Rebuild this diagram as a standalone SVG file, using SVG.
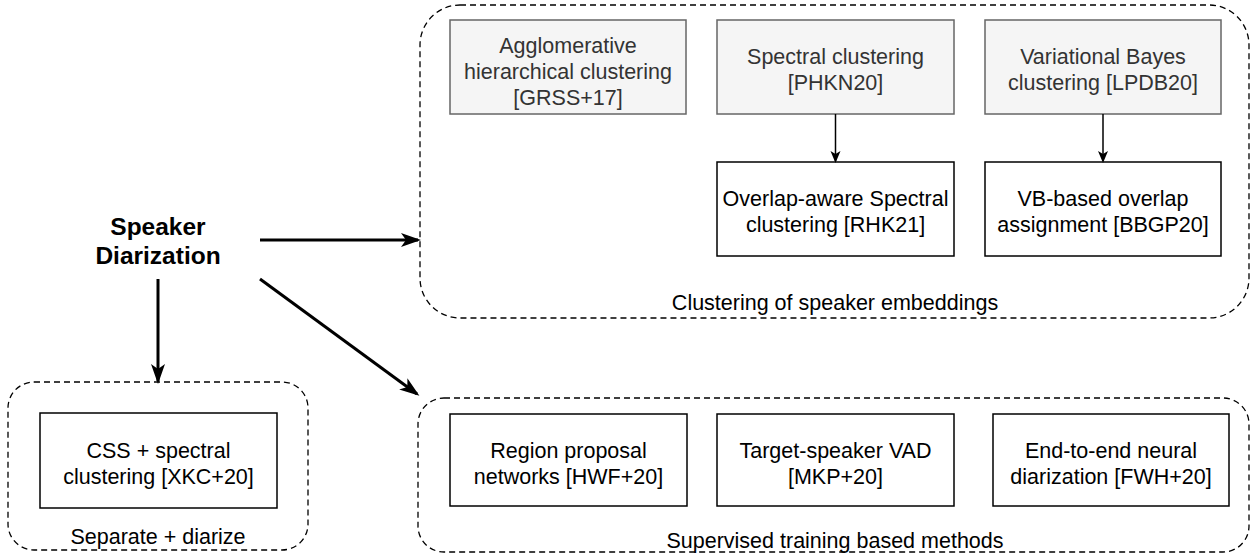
<svg xmlns="http://www.w3.org/2000/svg" width="1253" height="556" viewBox="0 0 1253 556">
<defs>
<style>
.t{font-family:"Liberation Sans",Arial,sans-serif;font-size:21.5px;fill:#000;text-anchor:middle}
.g{fill:#333}
.box{fill:#fff;stroke:#000;stroke-width:1.5}
.gbox{fill:#f5f5f5;stroke:#666;stroke-width:1.5}
.cont{fill:none;stroke:#000;stroke-width:1.3;stroke-dasharray:6 4}
.c1{stroke:#000;stroke-width:1.5;fill:none}
.c2{stroke:#000;stroke-width:3;fill:none}
</style>
<marker id="a1" markerWidth="12" markerHeight="12" refX="10" refY="5" orient="auto" markerUnits="userSpaceOnUse" viewBox="0 0 12 10"><path d="M0,0 L12,5 L0,10 L3,5 Z" fill="#000"/></marker>
<marker id="a2" markerWidth="20" markerHeight="20" refX="17" refY="7" orient="auto" markerUnits="userSpaceOnUse" viewBox="0 0 20 14"><path d="M0,0 L20,7 L0,14 L5,7 Z" fill="#000"/></marker>
</defs>
<rect width="1253" height="556" fill="#fff"/>

<g id="cluster-container">
<rect class="cont" x="420" y="5" width="829" height="313" rx="40" ry="40"/>
<text class="t" x="835" y="310">Clustering of speaker embeddings</text>
</g>
<g id="separate-container">
<rect class="cont" x="8" y="382" width="300" height="168" rx="26" ry="26"/>
<text class="t" x="158" y="544">Separate + diarize</text>
</g>
<g id="supervised-container">
<rect class="cont" x="418" y="398" width="831" height="154" rx="26" ry="26"/>
<text class="t" x="835" y="548">Supervised training based methods</text>
</g>

<g id="speaker-diarization">
<text class="t" style="font-weight:bold;font-size:24.5px" x="158" y="235">Speaker</text>
<text class="t" style="font-weight:bold;font-size:24.5px" x="158" y="264">Diarization</text>
</g>

<g id="ahc">
<rect class="gbox" x="450" y="20" width="236" height="94"/>
<text class="t g" x="568" y="53">Agglomerative</text>
<text class="t g" x="568" y="79">hierarchical clustering</text>
<text class="t g" x="568" y="105">[GRSS+17]</text>
</g>
<g id="spectral">
<rect class="gbox" x="717" y="20" width="237" height="94"/>
<text class="t g" x="835.5" y="64">Spectral clustering</text>
<text class="t g" x="835.5" y="90">[PHKN20]</text>
</g>
<g id="vb">
<rect class="gbox" x="985" y="20" width="236" height="94"/>
<text class="t g" x="1103" y="64">Variational Bayes</text>
<text class="t g" x="1103" y="90">clustering [LPDB20]</text>
</g>
<g id="overlap-spectral">
<rect class="box" x="717" y="162" width="237" height="94"/>
<text class="t" x="835.5" y="206">Overlap-aware Spectral</text>
<text class="t" x="835.5" y="232">clustering [RHK21]</text>
</g>
<g id="vb-overlap">
<rect class="box" x="985" y="162" width="236" height="94"/>
<text class="t" x="1103" y="206">VB-based overlap</text>
<text class="t" x="1103" y="232">assignment [BBGP20]</text>
</g>
<g id="css">
<rect class="box" x="40" y="413" width="237" height="95"/>
<text class="t" x="158.5" y="458">CSS + spectral</text>
<text class="t" x="158.5" y="484">clustering [XKC+20]</text>
</g>
<g id="rpn">
<rect class="box" x="450" y="414" width="237" height="92"/>
<text class="t" x="568.5" y="458">Region proposal</text>
<text class="t" x="568.5" y="484">networks [HWF+20]</text>
</g>
<g id="tsvad">
<rect class="box" x="717" y="414" width="237" height="92"/>
<text class="t" x="835.5" y="458">Target-speaker VAD</text>
<text class="t" x="835.5" y="484">[MKP+20]</text>
</g>
<g id="eend">
<rect class="box" x="993" y="414" width="236" height="92"/>
<text class="t" x="1111" y="458">End-to-end neural</text>
<text class="t" x="1111" y="484">diarization [FWH+20]</text>
</g>

<g id="connectors">
<line class="c1" x1="835.5" y1="114" x2="835.5" y2="161" marker-end="url(#a1)"/>
<line class="c1" x1="1103" y1="114" x2="1103" y2="161" marker-end="url(#a1)"/>
<line class="c2" x1="260" y1="240" x2="418" y2="240" marker-end="url(#a2)"/>
<line class="c2" x1="158" y1="279" x2="158" y2="381" marker-end="url(#a2)"/>
<line class="c2" x1="260" y1="279" x2="417" y2="394" marker-end="url(#a2)"/>
</g>
</svg>
